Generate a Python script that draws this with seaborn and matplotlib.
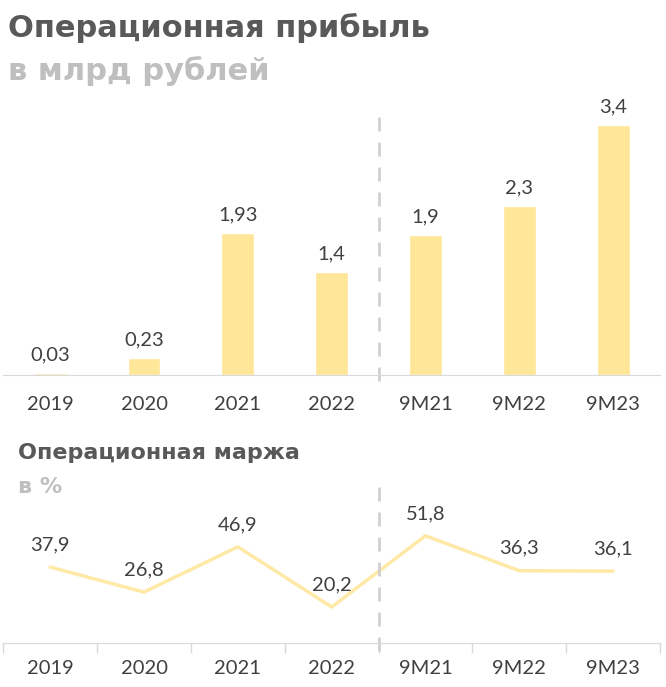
import pandas as pd
import seaborn as sns
import matplotlib.pyplot as plt

# data
periods = ['2019', '2020', '2021', '2022', '9M21', '9M22', '9M23']
profit = [0.03, 0.23, 1.93, 1.4, 1.9, 2.3, 3.4]
margin = [37.9, 26.8, 46.9, 20.2, 51.8, 36.3, 36.1]

df = pd.DataFrame({'period': periods, 'profit': profit, 'margin': margin})

sns.set_style('white')
plt.rcParams['font.family'] = ['Lato', 'DejaVu Sans']

BAR = '#FFE699'
LINE = '#FFE9A6'
TXT = '#404040'
AX = '#D9D9D9'
HEAD = ['DejaVu Sans']

fig = plt.figure(figsize=(6.66, 6.87), dpi=100)

# titles
fig.text(0.012, 0.960, 'Операционная прибыль', fontsize=22, fontweight='bold',
         family=HEAD, color='#595959', va='center', ha='left')
fig.text(0.012, 0.896, 'в млрд рублей', fontsize=22, fontweight='bold',
         family=HEAD, color='#BFBFBF', va='center', ha='left')
fig.text(0.027, 0.340, 'Операционная маржа', fontsize=16, fontweight='bold',
         family=HEAD, color='#595959', va='center', ha='left')
fig.text(0.027, 0.291, 'в %', fontsize=16, fontweight='bold',
         family=HEAD, color='#BFBFBF', va='center', ha='left')

# top: bars
ax1 = fig.add_axes([0.005, 0.454, 0.986, 0.393])
sns.barplot(data=df, x='period', y='profit', color=BAR, width=0.35,
            saturation=1, ax=ax1)
ax1.set_xlim(-0.5, 6.5)
ax1.set_ylim(0, 3.67)
for i, v in enumerate(profit):
    ax1.annotate(f'{v:g}'.replace('.', ','), (i, v), xytext=(0, 7),
                 textcoords='offset points', ha='center', va='bottom',
                 fontsize=14.5, color=TXT)
ax1.axvline(3.5, ymin=-0.02, ymax=0.96, color='#D0D0D0', lw=2,
            ls=(0, (5, 4)), clip_on=False)
sns.despine(ax=ax1, left=True, top=True, right=True)
ax1.spines['bottom'].set_color(AX)
ax1.set_yticks([])
ax1.set_xlabel('')
ax1.set_ylabel('')
ax1.tick_params(axis='x', length=0, labelsize=14.5, labelcolor=TXT, pad=15)

# bottom: line
ax2 = fig.add_axes([0.005, 0.064, 0.986, 0.223])
sns.lineplot(data=df, x='period', y='margin', color=LINE, lw=2.5, ax=ax2,
             sort=False)
ax2.set_xlim(-0.5, 6.5)
ax2.set_ylim(4.2, 72.2)
for i, v in enumerate(margin):
    ax2.annotate(f'{v:.1f}'.replace('.', ','), (i, v), xytext=(0, 10),
                 textcoords='offset points', ha='center', va='bottom',
                 fontsize=14.5, color=TXT)
ax2.axvline(3.5, ymin=-0.05, ymax=1.02, color='#D0D0D0', lw=2,
            ls=(0, (5, 4)), clip_on=False)
sns.despine(ax=ax2, left=True, top=True, right=True)
ax2.spines['bottom'].set_color(AX)
ax2.set_yticks([])
ax2.set_xlabel('')
ax2.set_ylabel('')
ax2.set_xticks(range(len(periods)))
ax2.set_xticklabels(periods)
ax2.set_xticks([i - 0.5 for i in range(len(periods) + 1)], minor=True)
ax2.tick_params(axis='x', which='major', length=0, labelsize=14.5,
                labelcolor=TXT, pad=12)
ax2.tick_params(axis='x', which='minor', length=7, color=AX, width=1,
                bottom=True)

fig.savefig('out.png', dpi=100)
